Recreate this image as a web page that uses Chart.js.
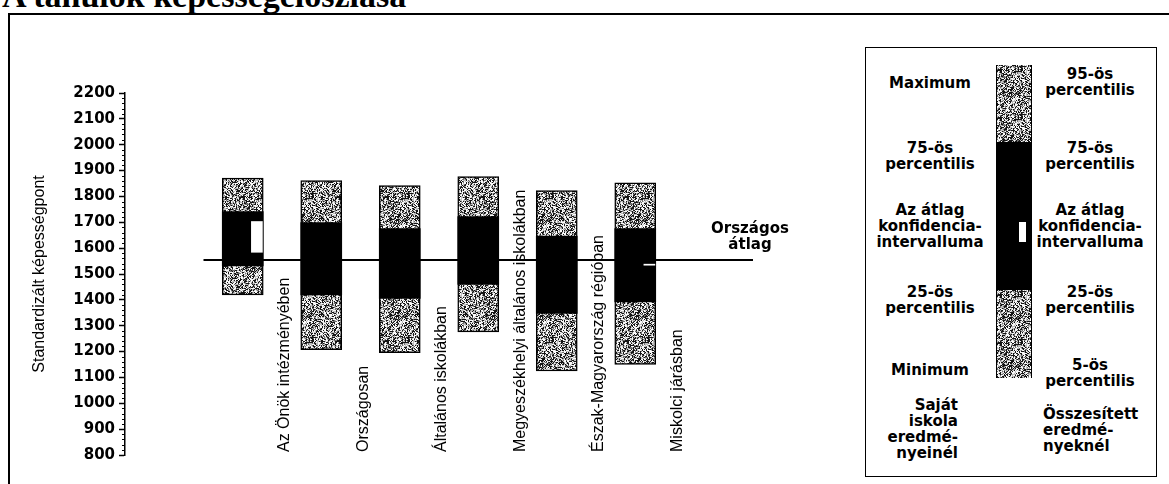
<!DOCTYPE html>
<html lang="hu">
<head>
<meta charset="utf-8">
<script src="https://cdn.jsdelivr.net/npm/chart.js@4.4.0/dist/chart.umd.min.js"></script>
<style>
  html, body { margin: 0; padding: 0; background: #fff; }
  body { width: 1169px; height: 484px; position: relative; overflow: hidden; font-family: 'DejaVu Sans', sans-serif; }
  #cim { position: absolute; left: 2px; top: -21px; font: bold 34px/34px 'Liberation Serif', serif; white-space: nowrap; color: #000; }
  #keret { position: absolute; left: 8px; top: 13px; width: 1200px; height: 500px; border-left: 2px solid #000; border-top: 2px solid #000; }
  #grafikon { position: absolute; left: 0; top: 0; width: 840px; height: 484px; }
  .felirat { position: absolute; font-weight: bold; font-size: 15px; line-height: 16px; color: #000; white-space: nowrap; }
  .kozep { text-align: center; width: 160px; }
  #jelmagyarazat { position: absolute; left: 865px; top: 47px; width: 292px; height: 430px; border: 1.5px solid #000; box-sizing: border-box; }
  .savdarab { position: absolute; left: 996px; width: 36px; box-sizing: border-box; }
</style>
</head>
<body>
<div id="cim">A tanulók képességeloszlása</div>
<div id="keret"></div>
<canvas id="grafikon" width="840" height="484"></canvas>
<div id="jelmagyarazat"></div>
<div id="feliratok"></div>

<script>
// Kategóriák és értékek
const kategoriak = ['Az Önök intézményében', 'Országosan', 'Általános iskolákban',
    'Megyeszékhelyi általános iskolákban', 'Észak-Magyarország régióban', 'Miskolci járásban'];
const alsoSzel = [1419, 1207, 1196, 1276, 1125, 1150];     // minimum / 5-ös percentilis
const felsoSzel = [1871, 1861, 1842, 1877, 1823, 1853];    // maximum / 95-ös percentilis
const percentilis25 = [1531, 1419, 1406, 1460, 1348, 1392];
const percentilis75 = [1741, 1699, 1676, 1722, 1647, 1676];
const konfAlso = [1584, null, null, null, null, 1534];
const konfFelso = [1703, null, null, null, null, 1538];
const orszagosAtlag = 1554;
const yMin = 800, yMax = 2200, yLepes = 100;

// Szürke, pöttyözött kitöltés
function mintaVaszon() {
    const c = document.createElement('canvas');
    c.width = c.height = 48;
    const g = c.getContext('2d');
    const img = g.createImageData(48, 48);
    for (let py = 0; py < 48; py++) {
        for (let px = 0; px < 48; px++) {
            let n = Math.imul(px, 374761393) + Math.imul(py, 668265263);
            n = Math.imul(n ^ (n >>> 13), 1274126177);
            n ^= n >>> 16;
            const t = (n >>> 0) / 4294967296;
            const v = t < 0.32 ? 20 : (t < 0.47 ? 110 : (t < 0.7 ? 190 : 250));
            const k = (py * 48 + px) * 4;
            img.data[k] = img.data[k + 1] = img.data[k + 2] = v;
            img.data[k + 3] = 255;
        }
    }
    g.putImageData(img, 0, 0);
    return c;
}
const minta = mintaVaszon();
const ctx = document.getElementById('grafikon').getContext('2d');
const szurke = ctx.createPattern(minta, 'repeat');

// Kategória feliratok a dobozok között, alulról felfelé
const kategoriaFeliratok = {
    id: 'kategoriaFeliratok',
    afterDatasetsDraw(chart) {
        const { ctx, scales: { x, y } } = chart;
        ctx.save();
        ctx.font = "16px 'Liberation Sans Narrow', 'Arial Narrow', sans-serif";
        ctx.fillStyle = '#000';
        ctx.textAlign = 'left';
        ctx.textBaseline = 'middle';
        kategoriak.forEach((nev, i) => {
            ctx.save();
            ctx.translate(x.getPixelForValue(i + 0.5) + 3, y.getPixelForValue(yMin) - 3);
            ctx.rotate(-Math.PI / 2);
            ctx.fillText(nev, 0, 0);
            ctx.restore();
        });
        ctx.restore();
    }
};

// Apró beosztások az y tengelyen
const kisBeosztas = {
    id: 'kisBeosztas',
    afterDraw(chart) {
        const { ctx, scales: { y }, chartArea } = chart;
        ctx.save();
        ctx.strokeStyle = '#000';
        ctx.lineWidth = 1;
        for (let v = yMin; v <= yMax; v += 20) {
            if (v % yLepes === 0) continue;
            const py = Math.round(y.getPixelForValue(v)) + 0.5;
            ctx.beginPath();
            ctx.moveTo(chartArea.left - 3, py);
            ctx.lineTo(chartArea.left, py);
            ctx.stroke();
        }
        ctx.restore();
    }
};

// csak a meglévő értékekből lesz doboz
const dobozAdat = (also, felso, eltolas) => kategoriak.flatMap((_, i) =>
    also[i] == null ? [] : [{ x: i + eltolas, y: [also[i], felso[i]] }]);

new Chart(ctx, {
    type: 'bar',
    data: {
        datasets: [{
            type: 'line',
            data: [{ x: -0.5, y: orszagosAtlag }, { x: kategoriak.length + 0.5, y: orszagosAtlag }],
            borderColor: '#000',
            borderWidth: 2,
            pointRadius: 0,
            order: 5
        }, {
            data: dobozAdat(alsoSzel, felsoSzel, 0),
            backgroundColor: szurke,
            borderColor: '#000',
            borderWidth: 1.5,
            borderSkipped: false,
            barThickness: 41,
            grouped: false,
            order: 3
        }, {
            data: dobozAdat(percentilis25, percentilis75, 0),
            backgroundColor: '#000',
            borderWidth: 0,
            barThickness: 41,
            grouped: false,
            order: 2
        }, {
            data: dobozAdat(konfAlso, konfFelso, 0.18),
            backgroundColor: '#fff',
            borderWidth: 0,
            barThickness: 11,
            minBarLength: 1,
            grouped: false,
            order: 1
        }]
    },
    options: {
        responsive: false,
        animation: false,
        layout: { padding: { left: 0, top: 93, right: 87, bottom: 29 } },
        plugins: { legend: { display: false }, tooltip: { enabled: false } },
        scales: {
            x: { type: 'linear', offset: false, min: -1.5, max: kategoriak.length + 0.5, display: false },
            y: {
                min: yMin,
                max: yMax,
                ticks: {
                    stepSize: yLepes,
                    color: '#000',
                    padding: 4,
                    font: { family: 'DejaVu Sans', weight: 'bold', size: 15 },
                    callback: (v) => String(v)
                },
                grid: { drawOnChartArea: false, tickLength: 6, color: '#000', tickWidth: 1.5 },
                border: { color: '#000', width: 1.5 },
                title: {
                    display: true,
                    text: 'Standardizált képességpont',
                    color: '#000',
                    font: { family: "'Liberation Sans Narrow', 'Arial Narrow', sans-serif", size: 16 },
                    padding: { top: 30 }
                },
                afterFit(scale) { scale.width = 125; }
            }
        }
    },
    plugins: [kategoriaFeliratok, kisBeosztas]
});

// Feliratok: országos átlag és jelmagyarázat
const feliratok = [
    // [szöveg sorai, x, első sor közepe, igazítás]
    [['Országos', 'átlag'], 750, 228, 'kozep'],
    [['Maximum'], 930, 83, 'kozep'],
    [['75-ös', 'percentilis'], 930, 148, 'kozep'],
    [['Az átlag', 'konfidencia-', 'intervalluma'], 930, 210, 'kozep'],
    [['25-ös', 'percentilis'], 930, 292, 'kozep'],
    [['Minimum'], 930, 370, 'kozep'],
    [['Saját', 'iskola', 'eredmé-', 'nyeinél'], 958, 405, 'jobb'],
    [['95-ös', 'percentilis'], 1090, 74, 'kozep'],
    [['75-ös', 'percentilis'], 1090, 148, 'kozep'],
    [['Az átlag', 'konfidencia-', 'intervalluma'], 1090, 210, 'kozep'],
    [['25-ös', 'percentilis'], 1090, 292, 'kozep'],
    [['5-ös', 'percentilis'], 1090, 365, 'kozep'],
    [['Összesített', 'eredmé-', 'nyeknél'], 1043, 414, 'bal']
];
const tarolo = document.getElementById('feliratok');
feliratok.forEach(([sorok, x, y, igazitas]) => {
    const d = document.createElement('div');
    d.className = 'felirat';
    d.innerHTML = sorok.join('<br>');
    d.style.top = (y - 8) + 'px';
    if (igazitas === 'kozep') {
        d.classList.add('kozep');
        d.style.left = (x - 80) + 'px';
    } else if (igazitas === 'jobb') {
        d.style.right = (1169 - x) + 'px';
        d.style.textAlign = 'right';
    } else {
        d.style.left = x + 'px';
    }
    tarolo.appendChild(d);
});

// Jelmagyarázat sáv
const mintaUrl = 'url(' + minta.toDataURL() + ')';
const savok = [
    [65, 142, mintaUrl, '#888'],
    [142, 290, 'none', '#000'],
    [290, 378, mintaUrl, '#888']
];
savok.forEach(([fent, lent, kep, szin]) => {
    const d = document.createElement('div');
    d.className = 'savdarab';
    d.style.top = fent + 'px';
    d.style.height = (lent - fent) + 'px';
    d.style.backgroundColor = szin;
    d.style.backgroundImage = kep;
    d.style.borderLeft = d.style.borderRight = '1px solid #000';
    tarolo.appendChild(d);
});
const konf = document.createElement('div');
konf.style.cssText = 'position:absolute;left:1019px;top:222px;width:7px;height:20px;background:#fff;';
tarolo.appendChild(konf);
</script>
</body>
</html>
